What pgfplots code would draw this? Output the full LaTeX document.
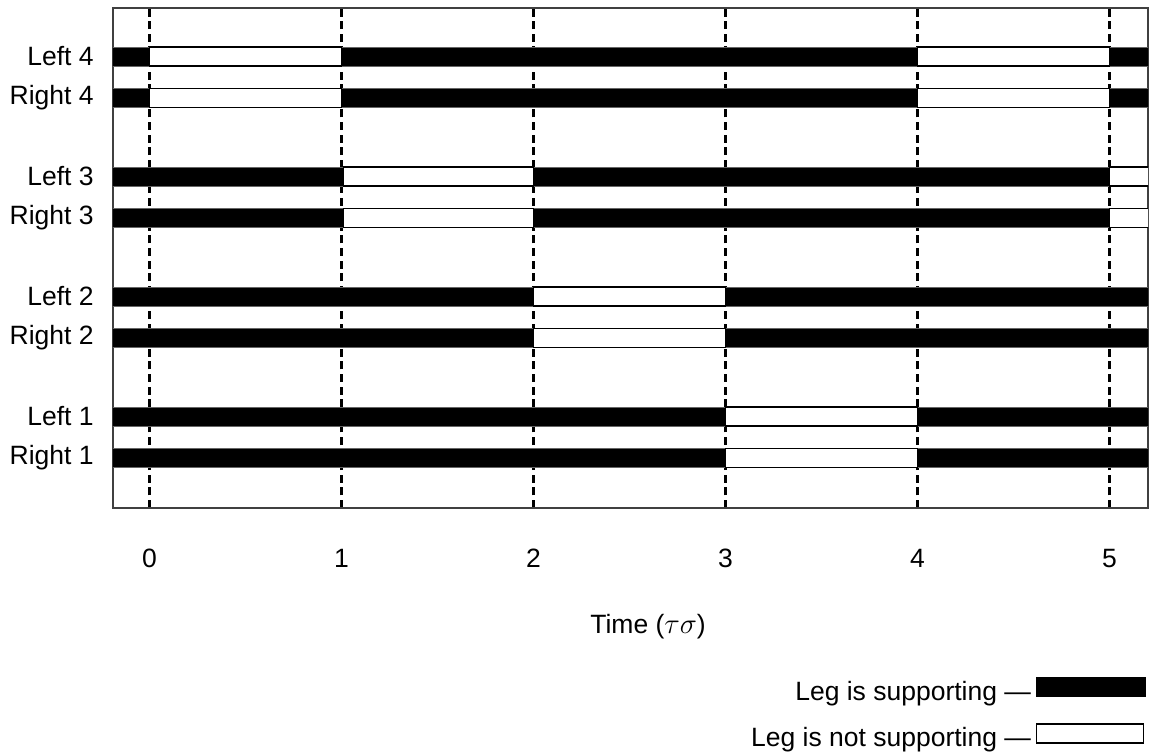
\documentclass[border=0pt]{standalone}
\usepackage{fontspec}
\setmainfont{Liberation Sans}
\usepackage{pgfplots}
\pgfplotsset{compat=1.18}

% one row = a black strip across the whole axis, with white (outlined) spans on top
\pgfplotsset{
  on/.style={forget plot, fill=black, draw=black!60, line width=0.3pt},
  off/.style={forget plot, fill=white, draw=black, line width=0.6pt},
}

\begin{document}
\fontsize{13.25}{15}\selectfont
\begin{tikzpicture}
\path[use as bounding box] (-56.5pt,-122.5pt) rectangle (518pt,254pt);
\begin{axis}[
    at={(0,0)}, anchor=south west,
    scale only axis, width=517.5pt, height=250pt,
    xmin=-0.19, xmax=5.2, ymin=0, ymax=500,
    xtick={0,1,2,3,4,5}, xtick pos=bottom, tick align=inside,
    major tick length=2.5pt,
    xtick style={line width=1.5pt, black},
    ytick={50,91.5,170,211.5,290,331.5,410,451.5},
    yticklabels={Right 1,Left 1,Right 2,Left 2,Right 3,Left 3,Right 4,Left 4},
    ytick style={draw=none},
    /pgf/number format/assume math mode=true,
    xticklabel style={anchor=base, inner sep=0pt, yshift=-29.5pt},
    yticklabel style={anchor=east, inner sep=0pt, xshift=-9.5pt},
    xmajorgrids,
    grid style={black, line width=1.5pt, dash pattern=on 4pt off 2.3pt},
    axis line style={black!75, line width=0.6pt},
    xlabel={Time ($\tau\sigma$)},
    xlabel style={at={(axis description cs:0.517,0)}, anchor=base, inner sep=0pt, yshift=-62.5pt},
    legend plot pos=right,
    legend cell align=right,
    legend style={at={(axis description cs:1,0)}, anchor=north east,
        xshift=-1pt, yshift=-84.5pt, draw=none, fill=none,
        inner sep=0pt, outer sep=0pt, row sep=9.75pt, column sep=2.5pt,
        nodes={inner sep=0pt}},
]
% Left 4
\addplot[on]  coordinates {(-0.3,442) (5.3,442) (5.3,461) (-0.3,461)} -- cycle;
\addplot[off] coordinates {(0,442) (1,442) (1,461) (0,461)} -- cycle;
\addplot[off] coordinates {(4,442) (5,442) (5,461) (4,461)} -- cycle;
% Right 4
\addplot[on]  coordinates {(-0.3,400.5) (5.3,400.5) (5.3,419.5) (-0.3,419.5)} -- cycle;
\addplot[off] coordinates {(0,400.5) (1,400.5) (1,419.5) (0,419.5)} -- cycle;
\addplot[off] coordinates {(4,400.5) (5,400.5) (5,419.5) (4,419.5)} -- cycle;
% Left 3
\addplot[on]  coordinates {(-0.3,322) (5.3,322) (5.3,341) (-0.3,341)} -- cycle;
\addplot[off] coordinates {(1.01,322) (2,322) (2,341) (1.01,341)} -- cycle;
\addplot[off] coordinates {(5,322) (5.3,322) (5.3,341) (5,341)} -- cycle;
% Right 3
\addplot[on]  coordinates {(-0.3,280.5) (5.3,280.5) (5.3,299.5) (-0.3,299.5)} -- cycle;
\addplot[off] coordinates {(1.01,280.5) (2,280.5) (2,299.5) (1.01,299.5)} -- cycle;
\addplot[off] coordinates {(5,280.5) (5.3,280.5) (5.3,299.5) (5,299.5)} -- cycle;
% Left 2
\addplot[on]  coordinates {(-0.3,202) (5.3,202) (5.3,221) (-0.3,221)} -- cycle;
\addplot[off] coordinates {(2,202) (3,202) (3,221) (2,221)} -- cycle;
% Right 2
\addplot[on]  coordinates {(-0.3,160.5) (5.3,160.5) (5.3,179.5) (-0.3,179.5)} -- cycle;
\addplot[off] coordinates {(2,160.5) (3,160.5) (3,179.5) (2,179.5)} -- cycle;
% Left 1
\addplot[on]  coordinates {(-0.3,82) (5.3,82) (5.3,101) (-0.3,101)} -- cycle;
\addplot[off] coordinates {(3,82) (4,82) (4,101) (3,101)} -- cycle;
% Right 1
\addplot[on]  coordinates {(-0.3,40.5) (5.3,40.5) (5.3,59.5) (-0.3,59.5)} -- cycle;
\addplot[off] coordinates {(3,40.5) (4,40.5) (4,59.5) (3,59.5)} -- cycle;

\addlegendimage{legend image code/.code={\draw[fill=black, draw=black] (0pt,-2pt) rectangle (54.5pt,7.5pt);}}
\addlegendentry{Leg is supporting —}
\addlegendimage{legend image code/.code={\draw[fill=white, draw=black, line width=0.6pt] (0pt,-2pt) rectangle (53.5pt,7.5pt);}}
\addlegendentry{Leg is not supporting —}
\end{axis}
\end{tikzpicture}
\end{document}
